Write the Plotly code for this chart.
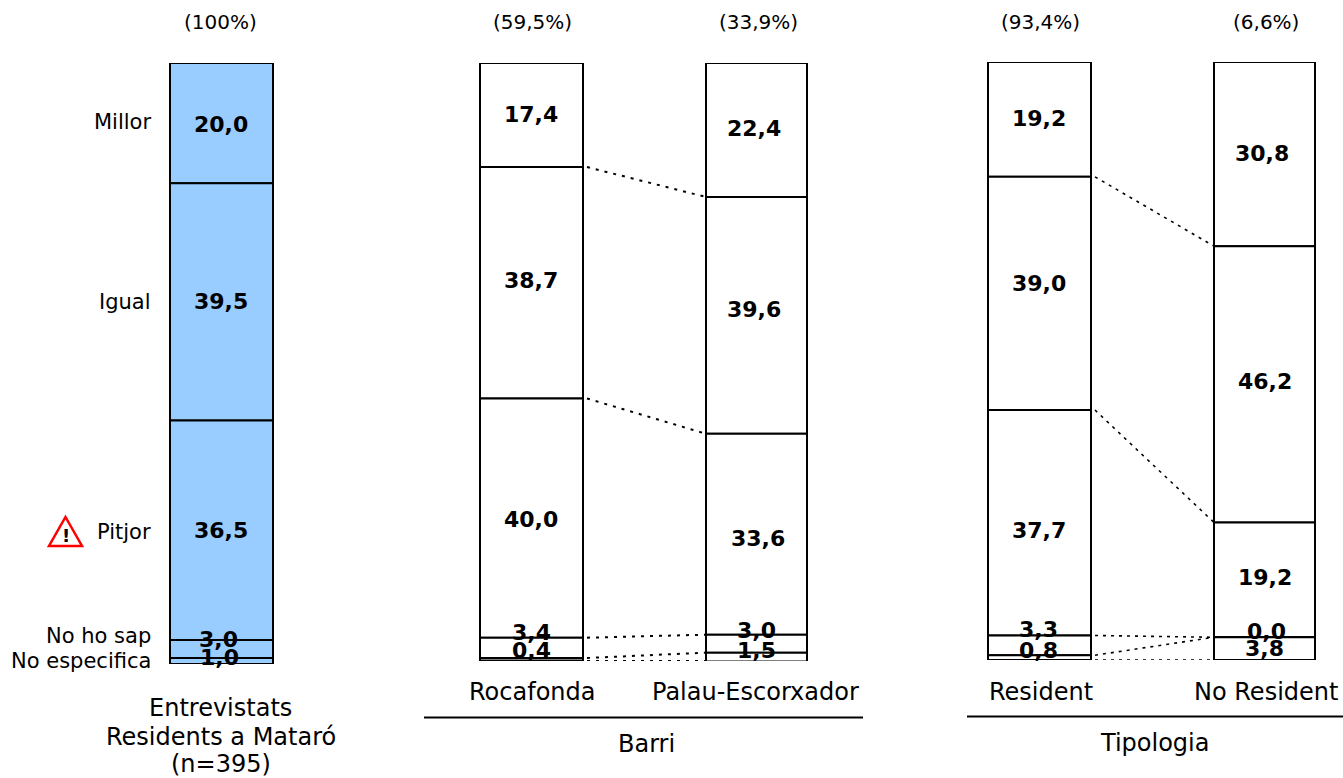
import plotly.graph_objects as go

W, H = 1343, 778
FONT = "DejaVu Sans"

categories = ["Millor", "Igual", "Pitjor", "No ho sap", "No especifica"]
bar_names = ["Entrevistats", "Rocafonda", "Palau-Escorxador", "Resident", "No Resident"]
share_labels = ["(100%)", "(59,5%)", "(33,9%)", "(93,4%)", "(6,6%)"]

entrevistats = [20.0, 39.5, 36.5, 3.0, 1.0]
rocafonda = [17.4, 38.7, 40.0, 3.4, 0.4]
palau = [22.4, 39.6, 33.6, 3.0, 1.5]
resident = [19.2, 39.0, 37.7, 3.3, 0.8]
no_resident = [30.8, 46.2, 19.2, 0.0, 3.8]

# layout: bar centre (x in px-scaled axis), width, panel, label nudges (px)
bars = [
    (entrevistats, 221.5, 103, 1, "#99CCFF", [-1, 0, 0, 9, 4], [-1, -1, -1, -3, -2]),
    (rocafonda, 531.5, 103, 2, "white", [1, 2, -1, 15, 9], [-1, -1, -1, 0, 0]),
    (palau, 756.5, 101, 2, "white", [1, 6, -4, 13, 7], [-3, -3, 1, 0, 0]),
    (resident, 1039.5, 103, 3, "white", [1, 10, -8, 16, 7], [-1, -1, -1, -1, -1]),
    (no_resident, 1264.5, 101, 3, "white", [1, 3, 2, 6, 0], [-3, 0, 0, 2, 0]),
]
panels = {1: (0, 424, 63, 664), 2: (424, 900, 63, 661), 3: (900, 1343, 62, 660)}
links = [(1, 2, 2, "3px,6px"), (3, 4, 1.6, "3px,5px")]


def py(px):
    return 1 - px / H


def px_(px):
    return px / W


def ax(p):
    return ("x", "y") if p == 1 else (f"x{p}", f"y{p}")


fig = go.Figure()
annotations = []


def tops(vals):
    out, run = [], 100.0
    for v in vals:
        out.append(run)
        run -= v
    return out


for vals, xc, w, p, color, dy, dx in bars:
    xa, ya = ax(p)
    t = tops(vals)
    for i, v in enumerate(vals):
        fig.add_trace(go.Bar(
            x=[xc], y=[v], base=[t[i] - v], width=[w], xaxis=xa, yaxis=ya, cliponaxis=False,
            marker=dict(color=color, line=dict(color="black", width=2)),
            showlegend=False, name=categories[i],
        ))
        annotations.append(dict(
            x=xc, y=t[i] - v / 2, xref=xa, yref=ya, text=f"<b>{v:.1f}</b>".replace(".", ","),
            showarrow=False, yshift=dy[i], xshift=dx[i], xanchor="center", yanchor="middle",
            font=dict(size=22, color="black", family=FONT),
        ))

for a, b, lw, dash in links:
    A, B = bars[a], bars[b]
    xa, ya = ax(A[3])
    ta, tb = tops(A[0]) + [0], tops(B[0]) + [0]
    for i in range(1, 6):
        fig.add_trace(go.Scatter(
            x=[A[1] + A[2] / 2 + 4, B[1] - B[2] / 2], y=[ta[i], tb[i]], xaxis=xa, yaxis=ya, mode="lines",
            cliponaxis=False,
            line=dict(color="black", width=lw, dash=dash), showlegend=False, hoverinfo="skip",
        ))


def txt(x, y, s, size=24, anchor="center"):
    annotations.append(dict(
        x=px_(x), y=py(y), xref="paper", yref="paper", text=s, showarrow=False,
        xanchor=anchor, yanchor="middle", font=dict(size=size, color="black", family=FONT),
    ))


for s, x in zip(share_labels, [221, 532, 758, 1040, 1266]):
    txt(x, 22, s, 20)
for s, y in zip(categories, [122, 302, 532, 636, 661]):
    txt(153, y, s, 21, "right")
for s, x in zip(bar_names[1:], [532, 755, 1041, 1266]):
    txt(x, 692, s)
txt(221, 708, "Entrevistats")
txt(221, 736.5, "Residents a Mataró")
txt(221, 764, "(n=395)")
txt(646, 744, "Barri")
txt(1154, 743, "Tipologia")

annotations.append(dict(x=px_(65.5), y=py(535), xref="paper", yref="paper", text="<b>!</b>", showarrow=False,
                        xanchor="center", yanchor="middle",
                        font=dict(size=18, color="black", family=FONT)))

shapes = [
    dict(type="line", xref="paper", yref="paper", x0=px_(424), x1=px_(863), y0=py(717.5), y1=py(717.5), line=dict(color="black", width=2)),
    dict(type="line", xref="paper", yref="paper", x0=px_(967), x1=px_(1343), y0=py(716.5), y1=py(716.5), line=dict(color="black", width=2)),
    dict(type="path", xref="paper", yref="paper", line=dict(color="#FF0000", width=2.5),
         path=f"M {px_(65.5)} {py(517)} L {px_(82)} {py(546)} L {px_(49)} {py(546)} Z"),
]

fig.update_layout(
    width=W, height=H, margin=dict(l=0, r=0, t=0, b=0),
    paper_bgcolor="white", plot_bgcolor="white",
    barmode="overlay", annotations=annotations, shapes=shapes, showlegend=False,
)
for p, (left, right, top, bottom) in panels.items():
    sx = "" if p == 1 else str(p)
    fig.update_layout({
        f"xaxis{sx}": dict(range=[left, right], visible=False, domain=[px_(left), px_(right)],
                           anchor=f"y{sx}", fixedrange=True),
        f"yaxis{sx}": dict(range=[0, 100], visible=False, domain=[py(bottom), py(top)],
                           anchor=f"x{sx}", fixedrange=True),
    })

fig.write_html("out.html", config={"displayModeBar": False},
               post_script="document.body.style.margin='0';document.body.style.overflow='hidden';")
